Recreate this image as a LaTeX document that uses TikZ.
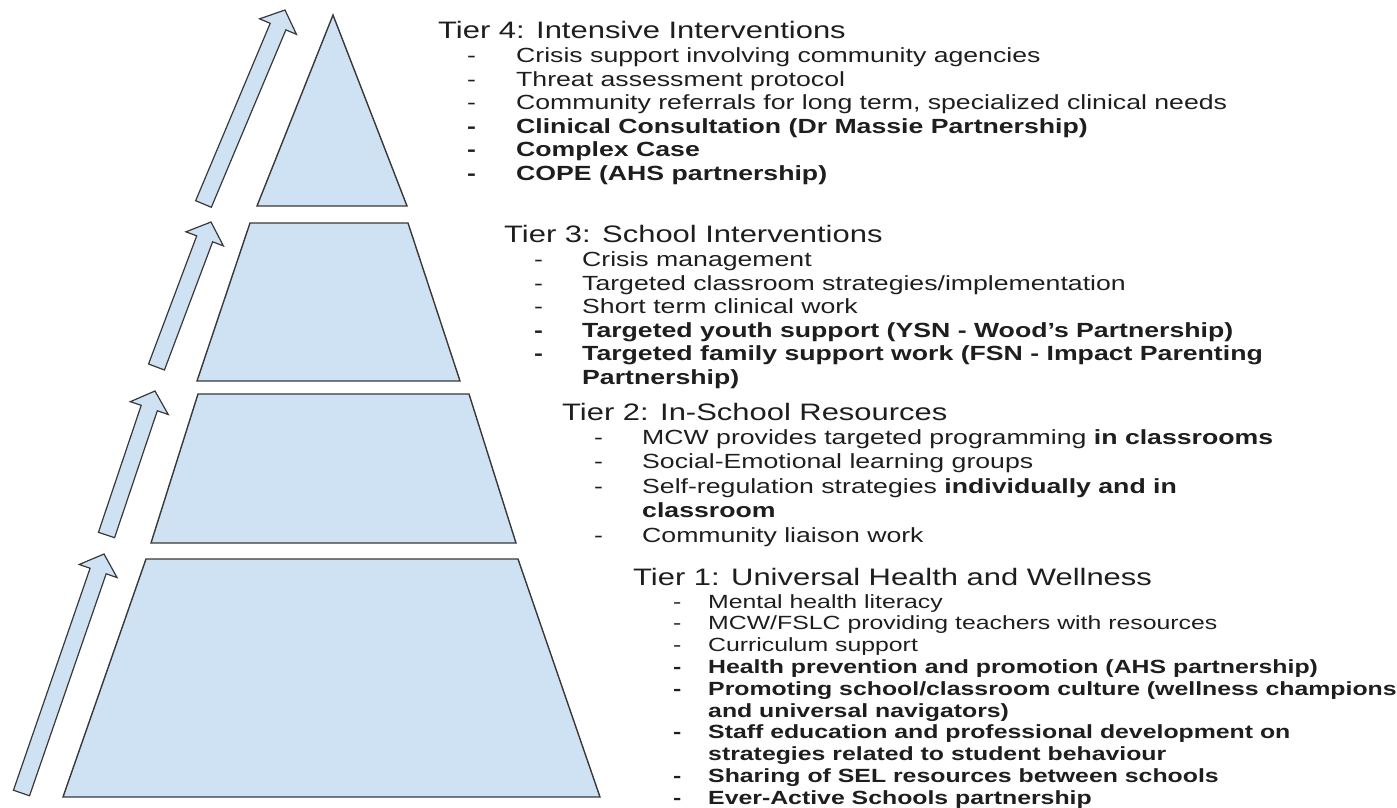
\documentclass[tikz,border=0pt]{standalone}
\usepackage{fontspec}
\setmainfont{Liberation Sans}[FakeStretch=1.3]
\usepackage{xcolor}
\usepackage{tikz}
\usetikzlibrary{calc}
\definecolor{cTier}{HTML}{CFE2F3}
\definecolor{cEdge}{HTML}{383838}
\definecolor{cInk}{HTML}{1E1E1E}
\tikzset{
  tierbox/.style={fill=cTier, draw=cEdge, line width=1.4pt, line join=miter},
  risearr/.style={fill=cTier, draw=cEdge, line width=1.2pt, line join=miter},
  tierhead/.style={anchor=base west, inner sep=0pt, text=cInk,
                   font=\fontsize{23.8}{28}\selectfont},
  tierlist/.style={anchor=base west, inner sep=0pt, text=cInk,
                   font=\fontsize{20.5}{23.6}\selectfont},
  midlist/.style={tierlist, font=\fontsize{20.5}{24.5}\selectfont},
  baselist/.style={tierlist, font=\fontsize{19.1}{21.8}\selectfont}
}

\begin{document}
\begin{tikzpicture}[x=1pt, y=-1pt]
\useasboundingbox (0,0) rectangle (1397,808);
% pyramid, top to bottom
\draw[tierbox] (333,15) -- (407,206) -- (257,206) -- cycle;
\draw[tierbox] (250,223) -- (408,223) -- (460,381) -- (197,381) -- cycle;
\draw[tierbox] (198,394) -- (469,394) -- (516,543) -- (151,543) -- cycle;
\draw[tierbox] (146,559) -- (518,559) -- (600,797) -- (63,797) -- cycle;
% rising arrows beside the tiers
\coordinate (tail1) at (203.5,204);  \coordinate (tip1) at (285,10);
\coordinate (tail2) at (156.5,367);  \coordinate (tip2) at (211,222);
\coordinate (tail3) at (106.5,535);  \coordinate (tip3) at (155,391);
\coordinate (tail4) at (21.5,793);   \coordinate (tip4) at (104,554);
\foreach \i in {1,...,4} {
  \coordinate (neck\i) at ($(tip\i)!18pt!(tail\i)$);
  \draw[risearr] ($(tail\i)!8.5pt!90:(tip\i)$) -- ($(neck\i)!8.5pt!90:(tip\i)$)
    -- ($(neck\i)!20pt!90:(tip\i)$) -- (tip\i) -- ($(neck\i)!20pt!-90:(tip\i)$)
    -- ($(neck\i)!8.5pt!-90:(tip\i)$) -- ($(tail\i)!8.5pt!-90:(tip\i)$) -- cycle;
}
% tier 4
\node[tierhead] (t4head) at (438,38.6) {Tier 4: Intensive Interventions};
\node[tierlist] (t4list) at (467,62.4) {\begin{tabular}[t]{@{}p{49pt}@{}l@{}}
  - & Crisis support involving community agencies \\
  - & Threat assessment protocol \\
  - & Community referrals for long term, specialized clinical needs \\
  \textbf{-} & \textbf{Clinical Consultation (Dr Massie Partnership)} \\
  \textbf{-} & \textbf{Complex Case} \\
  \textbf{-} & \textbf{COPE (AHS partnership)}
\end{tabular}};
% tier 3
\node[tierhead] (t3head) at (504,242.6) {Tier 3: School Interventions};
\node[tierlist] (t3list) at (534,266.4) {\begin{tabular}[t]{@{}p{48pt}@{}l@{}}
  - & Crisis management \\
  - & Targeted classroom strategies/implementation \\
  - & Short term clinical work \\
  \textbf{-} & \textbf{Targeted youth support (YSN - Wood's Partnership)} \\
  \textbf{-} & \textbf{Targeted family support work (FSN - Impact Parenting} \\
   & \textbf{Partnership)}
\end{tabular}};
% tier 2
\node[tierhead] (t2head) at (562,420.6) {Tier 2: In-School Resources};
\node[midlist] (t2list) at (594,444.4) {\begin{tabular}[t]{@{}p{48pt}@{}l@{}}
  - & MCW provides targeted programming \textbf{in classrooms} \\
  - & Social-Emotional learning groups \\
  - & Self-regulation strategies \textbf{individually and in} \\
   & \textbf{classroom} \\
  - & Community liaison work
\end{tabular}};
% tier 1
\node[tierhead] (t1head) at (633,585.6) {Tier 1: Universal Health and Wellness};
\node[baselist] (t1list) at (673,608) {\begin{tabular}[t]{@{}p{35pt}@{}l@{}}
  - & Mental health literacy \\
  - & MCW/FSLC providing teachers with resources \\
  - & Curriculum support \\
  \textbf{-} & \textbf{Health prevention and promotion (AHS partnership)} \\
  \textbf{-} & \textbf{Promoting school/classroom culture (wellness champions} \\
   & \textbf{and universal navigators)} \\
  \textbf{-} & \textbf{Staff education and professional development on} \\
   & \textbf{strategies related to student behaviour} \\
  \textbf{-} & \textbf{Sharing of SEL resources between schools} \\
  \textbf{-} & \textbf{Ever-Active Schools partnership}
\end{tabular}};
\end{tikzpicture}
\end{document}
